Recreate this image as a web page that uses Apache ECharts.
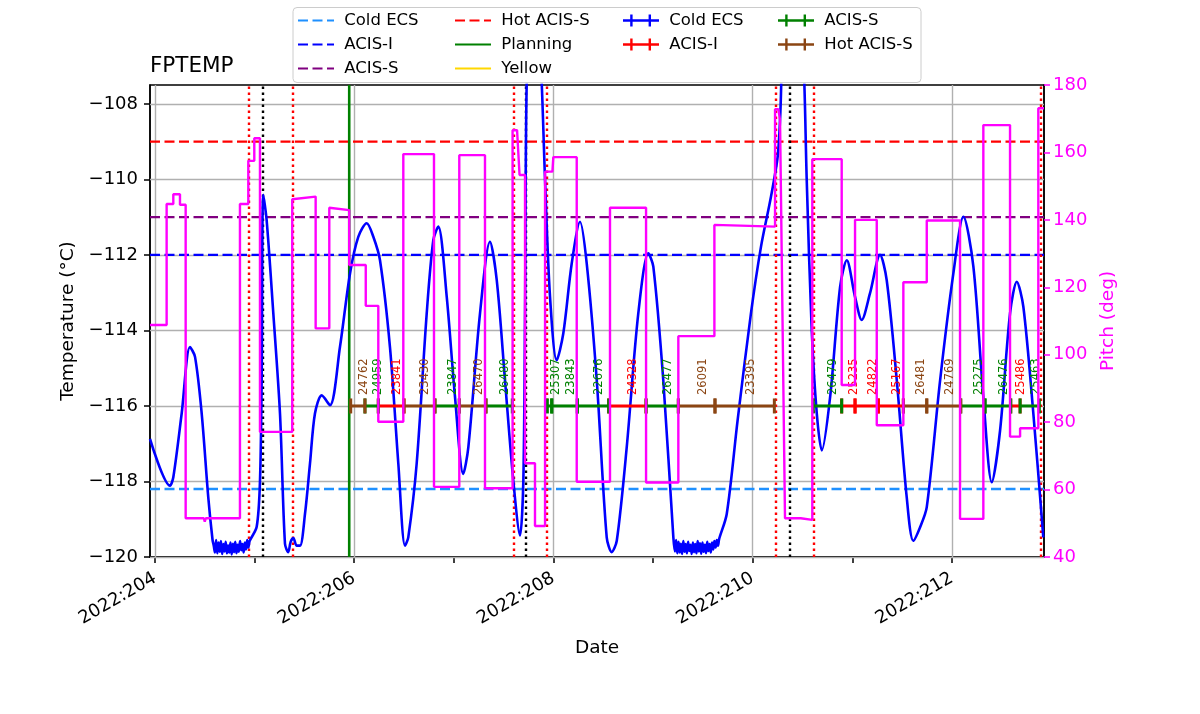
<!DOCTYPE html>
<html>
<head>
<meta charset="utf-8">
<script src="https://cdn.jsdelivr.net/npm/echarts@6/dist/echarts.min.js"></script>
<style>html,body{margin:0;padding:0;background:#fff}#chart{width:1200px;height:714px}</style>
</head>
<body>
<div id="chart"></div>
<script>
// ---------------- data ----------------
const X_MIN = 203.95, X_MAX = 212.925;
const Y_MIN = -120, Y_MAX = -107.5;
const PITCH_MIN = 40, PITCH_MAX = 180;
const xTickDays = [204, 205, 206, 207, 208, 209, 210, 211, 212];
const xLabelDays = [204, 206, 208, 210, 212];
const yTicks = [-120, -118, -116, -114, -112, -110, -108];
const pitchTicks = [40, 60, 80, 100, 120, 140, 160, 180];

const limitNames = ['Cold ECS', 'ACIS-I', 'ACIS-S', 'Hot ACIS-S'];
const limitValues = [-118.2, -112.0, -111.0, -109.0];

const planningTimes = [205.95];
const yellowTimes = [];
const radzoneTimes = [204.937, 205.378, 207.597, 207.929, 210.228, 210.609, 212.886];
const perigeeTimes = [205.081, 207.722, 210.368];

const fptempTimes = [
  203.950, 204.151, 204.184, 204.268, 204.351, 204.402, 204.469, 204.535, 204.578,
  204.590, 204.602, 204.614, 204.626, 204.638, 204.650, 204.662, 204.674, 204.686,
  204.698, 204.710, 204.722, 204.734, 204.746, 204.758, 204.770, 204.782, 204.794,
  204.806, 204.818, 204.830, 204.842, 204.854, 204.866, 204.878, 204.890, 204.902,
  204.914, 204.926, 204.938, 204.950,
  205.021, 205.054, 205.071, 205.087, 205.121,
  205.188, 205.255, 205.305, 205.338, 205.362, 205.389, 205.423, 205.456, 205.506,
  205.556, 205.606, 205.674, 205.757, 205.857, 205.958, 206.041, 206.126, 206.192,
  206.259, 206.359, 206.443, 206.510, 206.543, 206.627, 206.728, 206.794, 206.844,
  206.929, 207.012, 207.095, 207.146, 207.263, 207.363, 207.431, 207.514, 207.597,
  207.665, 207.698, 207.715, 207.735, 207.800, 207.875, 207.916, 207.966, 208.033,
  208.099, 208.184, 208.267, 208.334, 208.435, 208.535, 208.585, 208.636, 208.736,
  208.852, 208.953, 209.003, 209.103, 209.204,
  209.220, 209.232, 209.244, 209.256, 209.268, 209.280, 209.292, 209.304, 209.316,
  209.328, 209.340, 209.352, 209.364, 209.376, 209.388, 209.400, 209.412, 209.424,
  209.436, 209.448, 209.460, 209.472, 209.484, 209.496, 209.508, 209.520, 209.532,
  209.544, 209.556, 209.568, 209.580, 209.592, 209.604, 209.616, 209.628, 209.640,
  209.652, 209.664,
  209.740, 209.849, 209.983, 210.084, 210.184, 210.251,
  210.278, 210.300, 210.400, 210.505, 210.543, 210.593, 210.644, 210.694, 210.778,
  210.878, 210.945, 211.028, 211.095, 211.178, 211.279, 211.346, 211.447, 211.547,
  211.613, 211.681, 211.748, 211.882, 212.015, 212.116, 212.216, 212.316, 212.401,
  212.484, 212.584, 212.652, 212.718, 212.818, 212.918
];
const fptempValues = [
  -116.87, -118.11, -117.89, -116.20, -114.44, -114.70, -116.20, -118.42, -119.55,
  -119.70, -119.88, -119.55, -119.90, -119.62, -119.86, -119.58, -119.92, -119.66,
  -119.85, -119.60, -119.90, -119.70, -119.88, -119.62, -119.93, -119.65, -119.87,
  -119.60, -119.90, -119.68, -119.86, -119.58, -119.82, -119.66, -119.88, -119.62,
  -119.80, -119.55, -119.75, -119.58,
  -119.20, -118.00, -115.30, -110.41, -111.08,
  -113.55, -116.20, -119.65, -119.87, -119.60, -119.50, -119.70, -119.70, -118.86,
  -117.53, -116.20, -115.72, -115.98, -114.44, -112.49, -111.52, -111.16, -111.52,
  -112.14, -114.44, -117.53, -119.70, -119.48, -117.53, -113.55, -111.61, -111.25,
  -113.11, -115.76, -117.80, -117.09, -113.55, -111.65, -112.67, -115.32, -117.97,
  -119.43, -117.97, -113.55, -107.00, -104.00, -107.00, -110.02, -113.11, -114.79,
  -114.08, -112.22, -111.12, -112.22, -115.32, -119.48, -119.87, -119.57, -117.09,
  -113.55, -111.96, -112.31, -115.32, -119.48,
  -119.85, -119.55, -119.90, -119.60, -119.88, -119.65, -119.92, -119.58, -119.86,
  -119.66, -119.90, -119.60, -119.84, -119.68, -119.92, -119.62, -119.87, -119.66,
  -119.90, -119.58, -119.85, -119.64, -119.91, -119.62, -119.86, -119.68, -119.90,
  -119.60, -119.84, -119.66, -119.88, -119.62, -119.80, -119.58, -119.75, -119.55,
  -119.70, -119.52,
  -118.86, -116.38, -113.55, -111.78, -110.46, -109.40,
  -108.25, -106.50, -103.00, -106.50, -110.02, -113.99, -116.20, -117.18, -115.76,
  -112.85, -112.14, -113.11, -113.72, -113.02, -112.00, -112.67, -115.32, -118.42,
  -119.57, -119.21, -118.68, -115.32, -112.49, -110.99, -112.31, -115.76, -118.02,
  -116.65, -113.55, -112.71, -113.38, -116.20, -119.48
];

const pitchTimes = [
  203.950, 204.117, 204.117, 204.184, 204.184, 204.251, 204.251, 204.308, 204.308,
  204.490, 204.500, 204.510, 204.853, 204.853, 204.937, 204.937, 204.997, 204.997,
  205.054, 205.054, 205.378, 205.378, 205.613, 205.613, 205.750, 205.750, 205.950,
  205.950, 206.116, 206.116, 206.242, 206.242, 206.493, 206.493, 206.801, 206.801,
  207.055, 207.055, 207.313, 207.313, 207.590, 207.590, 207.635, 207.660, 207.715,
  207.715, 207.815, 207.815, 207.916, 207.916, 207.990, 207.999, 208.234, 208.234,
  208.568, 208.568, 208.930, 208.930, 209.254, 209.254, 209.616, 209.616, 210.225,
  210.225, 210.258, 210.275, 210.295, 210.325, 210.483, 210.490, 210.599, 210.599,
  210.894, 210.894, 211.028, 211.028, 211.246, 211.246, 211.513, 211.513, 211.748,
  211.748, 212.082, 212.082, 212.316, 212.316, 212.584, 212.584, 212.685, 212.685,
  212.868, 212.868, 212.925
];
const pitchValues = [
  108.8, 108.8, 144.7, 144.7, 147.6, 147.6, 144.5, 144.5, 51.5,
  51.5, 50.5, 51.5, 51.5, 144.7, 144.7, 157.5, 157.5, 164.2,
  164.2, 77.1, 77.1, 146.1, 146.9, 107.8, 107.8, 143.6, 142.9,
  126.6, 126.6, 114.5, 114.5, 80.1, 80.1, 159.5, 159.5, 60.8,
  60.8, 159.2, 159.2, 60.4, 60.4, 166.6, 166.6, 153.3, 153.3,
  67.8, 67.8, 49.2, 49.2, 154.3, 154.3, 158.6, 158.6, 62.3,
  62.3, 143.6, 143.6, 62.1, 62.1, 105.5, 105.5, 138.5, 138.0,
  172.8, 172.8, 169.6, 169.6, 51.5, 51.5, 51.0, 51.0, 158.0,
  158.0, 91.0, 91.0, 140.0, 140.0, 79.1, 79.1, 121.5, 121.5,
  139.8, 139.8, 51.3, 51.3, 168.1, 168.1, 75.7, 75.7, 78.2,
  78.2, 173.1, 173.1
];

const obsLevel = -116;
const obsIds = ['24762', '24959', '23841', '23430', '23847', '26470', '26480', '25307', '23843', '22676',
  '24328', '26477', '26091', '23395', '26479', '25235', '24822', '25167', '26481', '24769',
  '25275', '26476', '25486', '25463'];
const obsTypes = ['Hot ACIS-S', 'ACIS-S', 'ACIS-I', 'Hot ACIS-S', 'ACIS-S', 'Hot ACIS-S', 'ACIS-S', 'ACIS-S', 'ACIS-S', 'ACIS-S',
  'ACIS-I', 'ACIS-S', 'Hot ACIS-S', 'Hot ACIS-S', 'ACIS-S', 'ACIS-I', 'ACIS-I', 'ACIS-I', 'Hot ACIS-S', 'Hot ACIS-S',
  'ACIS-S', 'ACIS-S', 'ACIS-I', 'ACIS-S'];
const obsStarts = [205.965, 206.108, 206.242, 206.500, 206.811, 207.055, 207.323, 207.939, 207.983, 208.240,
  208.555, 208.930, 209.254, 209.622, 210.609, 210.894, 211.028, 211.262, 211.513, 211.748,
  212.089, 212.333, 212.591, 212.685];
const obsStops = [206.108, 206.242, 206.500, 206.811, 207.055, 207.323, 207.587, 207.983, 208.240, 208.555,
  208.930, 209.254, 209.622, 210.218, 210.894, 211.028, 211.262, 211.513, 211.748, 212.089,
  212.333, 212.591, 212.685, 212.878];
const errorbarTypes = ['Cold ECS', 'ACIS-I', 'ACIS-S', 'Hot ACIS-S'];

// ---------------- styles ----------------
const FONT = 'DejaVu Sans';
const limitColors = {'Cold ECS': '#1e90ff', 'ACIS-I': '#0000ff', 'ACIS-S': '#800080', 'Hot ACIS-S': '#ff0000'};
const obsColors = {'Cold ECS': '#0000ff', 'ACIS-I': '#ff0000', 'ACIS-S': '#008000', 'Hot ACIS-S': '#8b4513'};
const EB_ICON = 'path://M0,4.8L36,4.8L36,7.2L0,7.2Z M7.2,0L9.6,0L9.6,12L7.2,12Z M25.6,0L28,0L28,12L25.6,12Z';

const minus = v => (v < 0 ? '\u2212' + Math.abs(v) : String(v));
const zip = (a, b) => a.map((t, i) => [t, b[i]]);

const series = [];

// grid lines (major ticks only)
series.push({
  type: 'line', name: '_grid', data: [], z: 1, silent: true,
  markLine: {
    z: 1, silent: true, symbol: ['none', 'none'], label: {show: false},
    lineStyle: {color: '#b0b0b0', width: 1.4, type: 'solid'},
    emphasis: {disabled: true},
    data: xLabelDays.map(d => ({xAxis: d})).concat(yTicks.map(v => ({yAxis: v})))
  }
});

// limit lines
limitNames.forEach((n, i) => {
  series.push({
    type: 'line', name: n, z: 2, symbol: 'none', silent: true,
    data: [[X_MIN, limitValues[i]], [X_MAX, limitValues[i]]],
    lineStyle: {color: limitColors[n], width: 2.4, type: [10, 4.5]},
    itemStyle: {color: limitColors[n]}
  });
});

// planning / yellow
series.push({
  type: 'line', name: 'Planning', z: 2, symbol: 'none', silent: true,
  data: planningTimes.length ? [[planningTimes[0], Y_MIN], [planningTimes[0], Y_MAX]] : [],
  lineStyle: {color: '#008000', width: 2.6}, itemStyle: {color: '#008000'}
});
series.push({
  type: 'line', name: 'Yellow', z: 2, symbol: 'none', silent: true,
  data: yellowTimes.map(t => [t, Y_MIN]),
  lineStyle: {color: '#ffd700', width: 2.6}, itemStyle: {color: '#ffd700'}
});

// radzone and perigee dotted lines
series.push({
  type: 'line', name: '_radzone', data: [], z: 3, silent: true,
  markLine: {z: 3, silent: true, symbol: ['none', 'none'], label: {show: false}, emphasis: {disabled: true},
    lineStyle: {color: '#ff0000', width: 2.4, type: [2.4, 3.6]},
    data: radzoneTimes.map(t => ({xAxis: t}))}
});
series.push({
  type: 'line', name: '_perigee', data: [], z: 3, silent: true,
  markLine: {z: 3, silent: true, symbol: ['none', 'none'], label: {show: false}, emphasis: {disabled: true},
    lineStyle: {color: '#000000', width: 2.4, type: [2.4, 3.6]},
    data: perigeeTimes.map(t => ({xAxis: t}))}
});

// FPTEMP
series.push({
  type: 'line', name: 'FPTEMP', z: 4, symbol: 'none', silent: true, smooth: 0.3, clip: true,
  data: zip(fptempTimes, fptempValues),
  lineStyle: {color: '#0000ff', width: 2.6}, itemStyle: {color: '#0000ff'}
});

// observation errorbars
errorbarTypes.forEach(tp => {
  const idx = obsTypes.map((t, i) => (t === tp ? i : -1)).filter(i => i >= 0);
  const color = obsColors[tp];
  series.push({
    type: 'custom', name: tp + '#', z: 5, silent: true,
    itemStyle: {color: color},
    encode: {x: [0, 1], y: 2},
    data: idx.map(i => [obsStarts[i], obsStops[i], obsLevel]),
    renderItem: function (params, api) {
      const s = api.coord([api.value(0), api.value(2)]);
      const e = api.coord([api.value(1), api.value(2)]);
      const cap = 7.5;
      const id = obsIds[idx[params.dataIndex]];
      return {
        type: 'group',
        children: [
          {type: 'line', shape: {x1: s[0], y1: s[1], x2: e[0], y2: e[1]}, style: {stroke: color, lineWidth: 3}},
          {type: 'line', shape: {x1: s[0], y1: s[1] - cap, x2: s[0], y2: s[1] + cap}, style: {stroke: color, lineWidth: 3}},
          {type: 'line', shape: {x1: e[0], y1: e[1] - cap, x2: e[0], y2: e[1] + cap}, style: {stroke: color, lineWidth: 3}},
          {type: 'text', x: (s[0] + e[0]) / 2, y: s[1] - 11, rotation: Math.PI / 2,
            style: {text: id, fill: color, font: '11.5px "DejaVu Sans"', align: 'left', verticalAlign: 'top'}}
        ]
      };
    }
  });
});

// pitch
series.push({
  type: 'line', name: 'Pitch', yAxisIndex: 1, z: 6, symbol: 'none', silent: true,
  data: zip(pitchTimes, pitchValues),
  lineStyle: {color: '#ff00ff', width: 2.4}, itemStyle: {color: '#ff00ff'}
});

const legendFmt = n => ' ' + n.replace('#', '');
const legendBase = {
  orient: 'vertical', top: 12, padding: 0, itemGap: 7, itemWidth: 36, itemHeight: 12,
  selectedMode: false, formatter: legendFmt,
  textStyle: {fontSize: 16.5, color: '#000', fontFamily: FONT}
};

const option = {
  animation: false,
  backgroundColor: '#fff',
  textStyle: {fontFamily: FONT},
  title: {text: 'FPTEMP', left: 150, top: 55, padding: 0,
    textStyle: {fontSize: 21.5, fontWeight: 'normal', color: '#000', fontFamily: FONT}},
  graphic: [{
    type: 'rect', z: 3, silent: true,
    shape: {x: 293, y: 7.5, width: 628, height: 75, r: 4},
    style: {fill: '#fff', stroke: '#cccccc', lineWidth: 1}
  }],
  legend: [
    Object.assign({}, legendBase, {left: 297, itemStyle: {opacity: 0},
      data: ['Cold ECS', 'ACIS-I', 'ACIS-S']}),
    Object.assign({}, legendBase, {left: 454, itemStyle: {opacity: 0},
      data: ['Hot ACIS-S', 'Planning', 'Yellow']}),
    Object.assign({}, legendBase, {left: 623, data: ['Cold ECS#', 'ACIS-I#'].map(n => ({name: n, icon: EB_ICON}))}),
    Object.assign({}, legendBase, {left: 778, data: ['ACIS-S#', 'Hot ACIS-S#'].map(n => ({name: n, icon: EB_ICON}))})
  ],
  grid: {left: 150, right: 156, top: 85, bottom: 157, show: true, borderColor: '#000', borderWidth: 1.5,
    backgroundColor: 'transparent'},
  xAxis: {
    type: 'value', min: X_MIN, max: X_MAX,
    name: 'Date', nameLocation: 'middle', nameGap: 82,
    nameTextStyle: {fontSize: 18.5, color: '#000', fontFamily: FONT},
    axisLine: {show: true, onZero: false, lineStyle: {color: '#000', width: 1.5}},
    axisTick: {show: true, length: 6, customValues: xTickDays, lineStyle: {color: '#000', width: 1.5}},
    axisLabel: {show: true, customValues: xLabelDays, rotate: 30, margin: 20, fontSize: 18, color: '#000',
      fontFamily: FONT, formatter: v => '2022:' + Math.round(v)},
    splitLine: {show: false}
  },
  yAxis: [{
    type: 'value', min: Y_MIN, max: Y_MAX, position: 'left',
    name: 'Temperature (°C)', nameLocation: 'middle', nameGap: 72, nameRotate: 90,
    nameTextStyle: {fontSize: 18.5, color: '#000', fontFamily: FONT},
    axisLine: {show: true, onZero: false, lineStyle: {color: '#000', width: 1.5}},
    axisTick: {show: true, length: 6, customValues: yTicks, lineStyle: {color: '#000', width: 1.5}},
    axisLabel: {show: true, customValues: yTicks, margin: 12, fontSize: 18, color: '#000', fontFamily: FONT,
      formatter: v => minus(Math.round(v))},
    splitLine: {show: false}
  }, {
    type: 'value', min: PITCH_MIN, max: PITCH_MAX, interval: 20, position: 'right',
    name: 'Pitch (deg)', nameLocation: 'middle', nameGap: 49, nameRotate: 90,
    nameTextStyle: {fontSize: 18.5, color: '#ff00ff', fontFamily: FONT},
    axisLine: {show: true, onZero: false, lineStyle: {color: '#000', width: 1.5}},
    axisTick: {show: true, length: 6, lineStyle: {color: '#ff00ff', width: 1.5}},
    axisLabel: {show: true, margin: 9, fontSize: 18, color: '#ff00ff', fontFamily: FONT},
    splitLine: {show: false}
  }],
  series: series
};

const chart = echarts.init(document.getElementById('chart'), null, {renderer: 'canvas'});
chart.setOption(option);
</script>
</body>
</html>
